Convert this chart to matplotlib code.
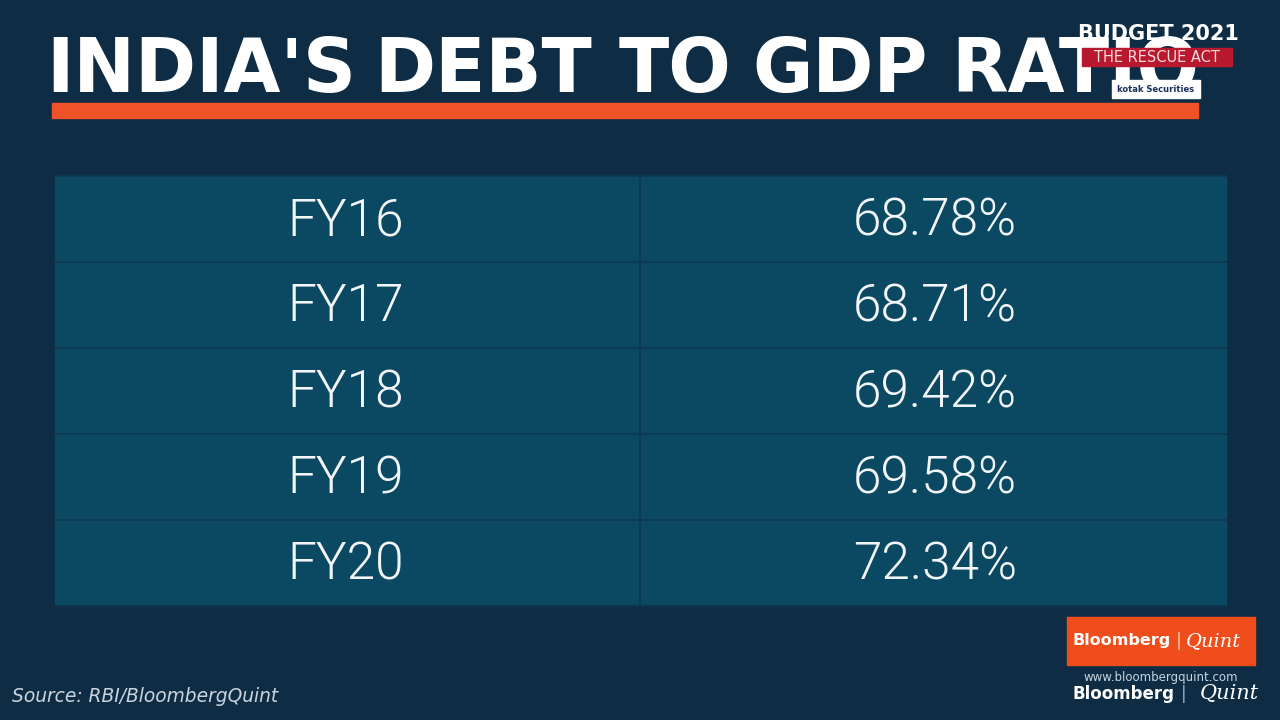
import matplotlib
matplotlib.use("Agg")
import matplotlib.pyplot as plt
from matplotlib.patches import Rectangle

# data
years = ["FY16", "FY17", "FY18", "FY19", "FY20"]
debt_to_gdp = [68.78, 68.71, 69.42, 69.58, 72.34]

title_words = ["INDIA'S", "DEBT", "TO", "GDP", "RATIO"]
title_x = [46, 374, 619, 752, 951]   # left edge of each word, px
source = "Source: RBI/BloombergQuint"

BG = "#0e2d45"
CELL = "#0b4862"
GAP = "#0b3850"
ORANGE = "#ef5226"

fig = plt.figure(figsize=(12.8, 7.2), dpi=100, facecolor=BG)
ax = fig.add_axes([0, 0, 1, 1])
ax.set_xlim(0, 1280)
ax.set_ylim(720, 0)
ax.axis("off")
ax.set_facecolor(BG)

# title + underline (words placed one by one, tighter spacing than the font)
for w, x in zip(title_words, title_x):
    ax.text(x, 92, w, color="white", fontsize=53, fontweight="bold",
            family="DejaVu Sans", va="baseline", ha="left", zorder=2)
ax.add_patch(Rectangle((52, 103), 1146, 15, color=ORANGE, zorder=2))

# table
top, row_h = 175, 86
left, mid, right = 55, 639, 1226
ax.add_patch(Rectangle((left, top), right - left, row_h * len(years),
                       color=GAP, zorder=1))
for i, (yr, val) in enumerate(zip(years, debt_to_gdp)):
    y0 = top + i * row_h
    ax.add_patch(Rectangle((left, y0 + 1.5), mid - left - 1.5, row_h - 3,
                           color=CELL, zorder=1))
    ax.add_patch(Rectangle((mid + 1.5, y0 + 1.5), right - mid - 1.5, row_h - 3,
                           color=CELL, zorder=1))
    yc = y0 + row_h / 2 + 3
    ax.text(346, yc, yr, color="#f2f6f8", fontsize=37, fontweight=300,
            family="Roboto", ha="center", va="center", zorder=3)
    ax.text(935, yc, f"{val:.2f}%", color="#f2f6f8", fontsize=37,
            fontweight=300, family="Roboto", ha="center", va="center",
            zorder=3)

# budget logo (top right)
ax.text(1158, 34, "BUDGET 2021", color="white", fontsize=15, fontweight="bold",
        family="DejaVu Sans", ha="center", va="center", zorder=5)
ax.add_patch(Rectangle((1082, 48), 150, 18, color="#b8192e", zorder=4))
ax.text(1157, 57, "THE RESCUE ACT", color="#f3d9dc", fontsize=10.5,
        family="DejaVu Sans", ha="center", va="center", zorder=5)
ax.add_patch(Rectangle((1112, 80), 88, 18, color="white", zorder=4))
ax.text(1156, 89, "kotak Securities", color="#1a2f5a", fontsize=6,
        fontweight="bold", family="DejaVu Sans", ha="center", va="center",
        zorder=5)

# bloomberg quint logo (bottom right)
ax.add_patch(Rectangle((1067, 617), 188, 48, color="#ef4e1c", zorder=4))
ax.text(1122, 641, "Bloomberg", color="white", fontsize=11.5,
        fontweight="bold", family="DejaVu Sans", ha="center", va="center",
        zorder=5)
ax.text(1179, 641, "|", color="#f7c3a8", fontsize=13, ha="center",
        va="center", zorder=5)
ax.text(1213, 641, "Quint", color="white", fontsize=14, style="italic",
        family="DejaVu Serif", ha="center", va="center", zorder=5)
ax.text(1161, 678, "www.bloombergquint.com", color="#c8d3de", fontsize=8.5,
        family="DejaVu Sans", ha="center", va="center", zorder=5)
ax.text(1124, 694, "Bloomberg", color="white", fontsize=12, fontweight="bold",
        family="DejaVu Sans", ha="center", va="center", zorder=5)
ax.text(1184, 694, "|", color="#9fb0c0", fontsize=12, ha="center",
        va="center", zorder=5)
ax.text(1229, 694, "Quint", color="white", fontsize=15, style="italic",
        family="DejaVu Serif", ha="center", va="center", zorder=5)

# source
ax.text(12, 696, source, color="#c9d4de", fontsize=13.4, style="italic",
        family="DejaVu Sans", ha="left", va="center", zorder=5)

fig.savefig("out.png", dpi=100, facecolor=BG)
